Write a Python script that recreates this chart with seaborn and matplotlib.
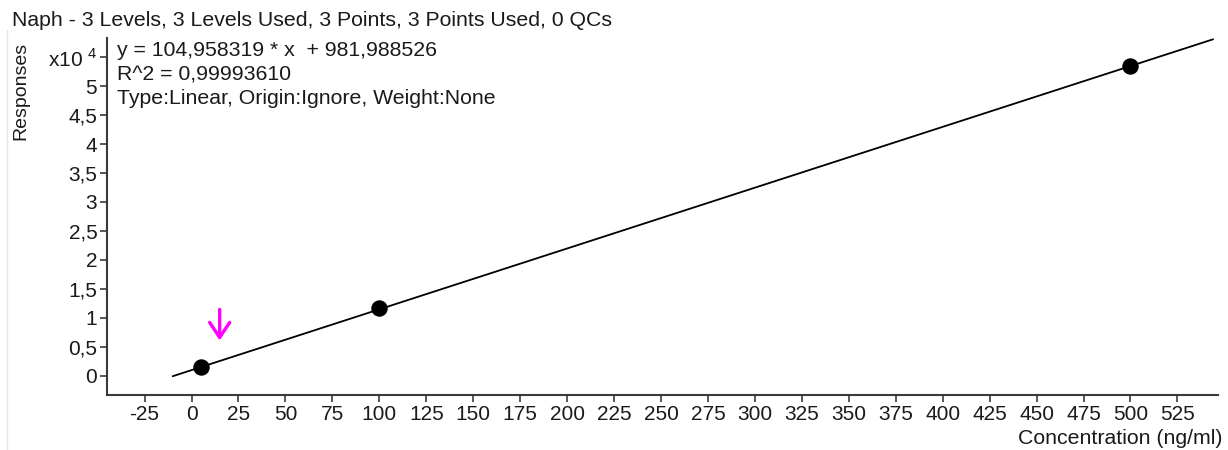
import matplotlib
matplotlib.use("Agg")
import matplotlib.pyplot as plt
import matplotlib.lines as mlines
import numpy as np
import pandas as pd
import seaborn as sns

sns.set_theme(style="white")
plt.rcParams["font.family"] = ["Liberation Sans", "DejaVu Sans"]
plt.rcParams["mathtext.fontset"] = "custom"
plt.rcParams["mathtext.rm"] = "Liberation Sans"

# Calibration data (concentration in ng/ml, detector response)
concentration = [5, 100, 500]
responses = [1550, 11650, 53440]

# Linear fit reported by the quantitation software
slope = 104.958319
intercept = 981.988526
fit_x = [-10, 544]

# Axis ticks
x_ticks = [-25, 0, 25, 50, 75, 100, 125, 150, 175, 200, 225, 250, 275, 300,
           325, 350, 375, 400, 425, 450, 475, 500, 525]
y_ticks = [0, 5000, 10000, 15000, 20000, 25000, 30000, 35000, 40000, 45000,
           50000, 55000]
y_tick_labels = ["0", "0,5", "1", "1,5", "2", "2,5", "3", "3,5", "4", "4,5",
                 "5", "x10 $^{4}$"]

# Marker for the reported sample
flag_x = 15
flag_top = 11440
flag_tip = 6100

title = "Naph - 3 Levels, 3 Levels Used, 3 Points, 3 Points Used, 0 QCs"
eq_lines = ["y = 104,958319 * x  + 981,988526",
            "R^2 = 0,99993610",
            "Type:Linear, Origin:Ignore, Weight:None"]

FS = 15.3
W, H = 1228, 450
fig = plt.figure(figsize=(W / 100, H / 100), dpi=100)
ax = fig.add_axes([107 / W, 1 - 395 / H, 1111 / W, (395 - 38) / H])

fit_df = pd.DataFrame({"x": fit_x,
                       "y": [slope * v + intercept for v in fit_x]})
pts_df = pd.DataFrame({"x": concentration, "y": responses})

sns.lineplot(data=fit_df, x="x", y="y", ax=ax, color="black", linewidth=1.3)
sns.scatterplot(data=pts_df, x="x", y="y", ax=ax, color="black", s=140,
                edgecolor="black", linewidth=0, zorder=3)

ax.annotate("", xy=(flag_x, flag_tip), xytext=(flag_x, flag_top),
            arrowprops=dict(arrowstyle="->,head_length=0.9,head_width=0.6",
                            color="#ff00ff", lw=2.4, shrinkA=0, shrinkB=0))

ax.set_xlim(-45, 546.6)
ax.set_ylim(-3310, 58300)
ax.set_xticks(x_ticks)
ax.set_xticklabels([str(v) for v in x_ticks])
ax.set_yticks(y_ticks)
ax.set_yticklabels(y_tick_labels)
ax.set_xlabel("")
ax.set_ylabel("")

for side in ("top", "right"):
    ax.spines[side].set_visible(False)
for side in ("left", "bottom"):
    ax.spines[side].set_color("#3a3a3a")
    ax.spines[side].set_linewidth(1.5)

ax.tick_params(axis="both", direction="out", length=5, width=1.2,
               color="#3a3a3a", labelsize=15, labelcolor="#1a1a1a", pad=2,
               left=True, bottom=True)

fig.text(12 / W, 1 - 21 / H, title, fontsize=FS, color="#1a1a1a",
         ha="left", va="center")
for i, line in enumerate(eq_lines):
    fig.text(117 / W, 1 - (51 + 24 * i) / H, line, fontsize=FS,
             color="#1a1a1a", ha="left", va="center")

fig.text(21 / W, 1 - 42 / H, "Responses", rotation=90, fontsize=14,
         color="#1a1a1a", ha="center", va="top")
fig.text(1223 / W, 1 - 439 / H, "Concentration (ng/ml)", fontsize=FS,
         color="#1a1a1a", ha="right", va="center")

fig.add_artist(mlines.Line2D([7 / W, 7 / W], [0, 1 - 30 / H],
                             color="#e6e6e6", linewidth=1))

fig.savefig("out.png", dpi=100)
